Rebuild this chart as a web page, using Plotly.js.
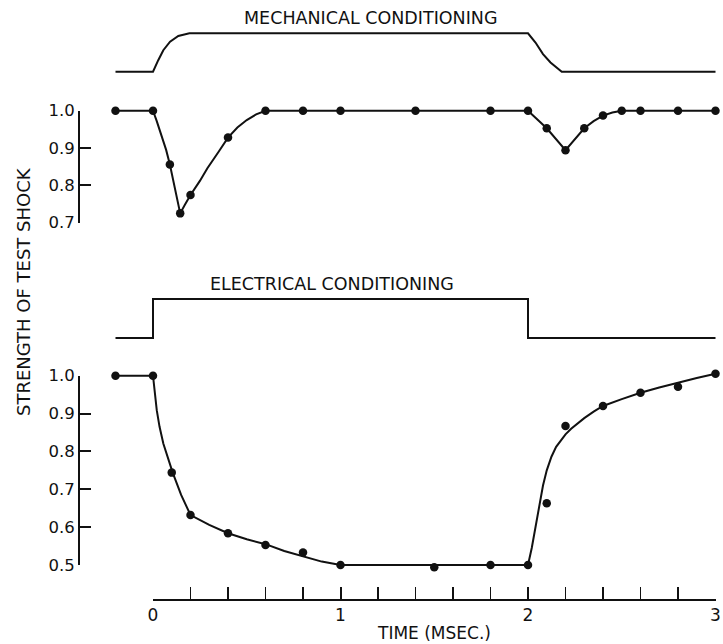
<!DOCTYPE html>
<html><head><meta charset="utf-8">
<script src="https://cdn.plot.ly/plotly-3.0.1.min.js"></script>
<style>html,body{margin:0;padding:0;background:#fff}#chart{width:723px;height:644px}</style>
</head><body><div id="chart"></div>
<script>
// ---------- data (time in msec) ----------
const mechPulseT = [-0.2, 0, 0.028, 0.055, 0.091, 0.135, 0.194, 2.0, 2.04, 2.08, 2.12, 2.18, 3.0];
const mechPulseLevel = [0, 0, 0.30, 0.56, 0.78, 0.93, 1, 1, 0.76, 0.46, 0.24, 0, 0];
const elecPulseT = [-0.2, 0, 0, 2.0, 2.0, 3.0];
const elecPulseLevel = [0, 0, 1, 1, 0, 0];

const mechT = [-0.2, 0, 0.09, 0.145, 0.2, 0.4, 0.6, 0.8, 1.0, 1.4, 1.8, 2.0, 2.1, 2.2, 2.3, 2.4, 2.5, 2.6, 2.8, 3.0];
const mechStrength = [1.0, 1.0, 0.856, 0.725, 0.774, 0.928, 1.0, 1.0, 1.0, 1.0, 1.0, 1.0, 0.953, 0.894, 0.953, 0.987, 1.0, 1.0, 1.0, 1.0];
const mechCurveT = [-0.2, 0, 0.02, 0.045, 0.07, 0.09, 0.12, 0.145, 0.17, 0.2, 0.25, 0.29, 0.35, 0.4, 0.45, 0.5, 0.55, 0.6, 2.0, 2.1, 2.2, 2.3, 2.35, 2.4, 2.45, 2.5, 3.0];
const mechCurveV = [1, 1, 0.972, 0.935, 0.895, 0.856, 0.787, 0.725, 0.748, 0.774, 0.812, 0.846, 0.89, 0.928, 0.955, 0.975, 0.99, 1, 1, 0.953, 0.894, 0.953, 0.972, 0.987, 0.995, 1, 1];

const elecT = [-0.2, 0, 0.1, 0.2, 0.4, 0.6, 0.8, 1.0, 1.5, 1.8, 2.0, 2.1, 2.2, 2.4, 2.6, 2.8, 3.0];
const elecStrength = [1.0, 1.0, 0.744, 0.632, 0.584, 0.553, 0.533, 0.5, 0.494, 0.5, 0.5, 0.663, 0.867, 0.92, 0.955, 0.971, 1.005];
const elecCurveT = [-0.2, 0, 0.02, 0.035, 0.055, 0.08, 0.105, 0.15, 0.2, 0.3, 0.4, 0.5, 0.6, 0.7, 0.8, 0.9, 1.0, 2.0, 2.02, 2.04, 2.06, 2.08, 2.1, 2.125, 2.15, 2.175, 2.2, 2.23, 2.26, 2.3, 2.35, 2.4, 2.5, 2.6, 2.7, 2.8, 2.9, 3.0];
const elecCurveV = [1, 1, 0.909, 0.865, 0.821, 0.78, 0.744, 0.685, 0.632, 0.606, 0.584, 0.568, 0.555, 0.537, 0.522, 0.509, 0.5, 0.5, 0.545, 0.6, 0.66, 0.71, 0.75, 0.786, 0.812, 0.83, 0.845, 0.86, 0.873, 0.888, 0.905, 0.92, 0.938, 0.955, 0.969, 0.982, 0.994, 1.005];

const topTicks = [0.7, 0.8, 0.9, 1.0];
const bottomTicks = [0.5, 0.6, 0.7, 0.8, 0.9, 1.0];
const timeLabels = [0, 1, 2, 3];

// ---------- layout geometry (pixels) ----------
const W = 723, H = 644, ML = 80;
const T0 = 153, PPT = 187.5;
const fx = p => (p - ML) / (W - ML);
const fy = p => 1 - p / H;
function padded(vTop, pTop, vBot, pBot, pA, pB) {
  const v = p => vTop + (p - pTop) * (vBot - vTop) / (pBot - pTop);
  return {range: [v(pB), v(pA)], domain: [fy(pB), fy(pA)]};
}
const INK = '#111';
const FONT = 'DejaVu Sans, Liberation Sans, sans-serif';
const hidden = o => Object.assign({visible: false, showgrid: false, zeroline: false, fixedrange: true}, o);

const yMechPulse = padded(1, 33.3, 0, 71.7, 20, 85);
const yMechData = padded(1.0, 110.7, 0.7, 222.7, 95, 240);
const yElecPulse = padded(1, 299, 0, 338, 288, 350);
const yElecData = padded(1.0, 375.7, 0.5, 565, 360, 585);

const valueAxis = (range, pTop, pBot, ticks) => ({
  domain: [fy(pBot), fy(pTop)], range: range, anchor: 'x',
  showline: true, linewidth: 2, linecolor: INK,
  ticks: 'inside', ticklen: 11, tickwidth: 2, tickcolor: INK,
  tickmode: 'array', tickvals: ticks, tickformat: '.1f',
  tickfont: {family: FONT, size: 16.5, color: INK},
  showgrid: false, zeroline: false, fixedrange: true
});

const line = {color: INK, width: 2};
const dot = {color: INK, size: 8.5};
const traces = [
  {x: mechPulseT, y: mechPulseLevel, xaxis: 'x', yaxis: 'y', mode: 'lines', line: line, hoverinfo: 'skip'},
  {x: mechCurveT, y: mechCurveV, xaxis: 'x', yaxis: 'y2', mode: 'lines', line: line, hoverinfo: 'skip'},
  {x: mechT, y: mechStrength, xaxis: 'x', yaxis: 'y2', mode: 'markers', marker: dot, hoverinfo: 'skip'},
  {x: elecPulseT, y: elecPulseLevel, xaxis: 'x', yaxis: 'y3', mode: 'lines', line: line, hoverinfo: 'skip'},
  {x: elecCurveT, y: elecCurveV, xaxis: 'x', yaxis: 'y4', mode: 'lines', line: line, hoverinfo: 'skip'},
  {x: elecT, y: elecStrength, xaxis: 'x', yaxis: 'y4', mode: 'markers', marker: dot, hoverinfo: 'skip'},
  // transparent copies that only hold the visible scale axes
  {x: mechT, y: mechStrength, xaxis: 'x', yaxis: 'y5', mode: 'markers', marker: {size: 1, opacity: 0}, hoverinfo: 'skip'},
  {x: elecT, y: elecStrength, xaxis: 'x2', yaxis: 'y6', mode: 'markers', marker: {size: 1, opacity: 0}, hoverinfo: 'skip'}
];

const layout = {
  width: W, height: H,
  margin: {l: ML, r: 0, t: 0, b: 0, pad: 0},
  paper_bgcolor: '#fff', plot_bgcolor: 'rgba(0,0,0,0)',
  showlegend: false,
  font: {family: FONT, color: INK},
  xaxis: hidden({domain: [0, 1], range: [(ML - T0) / PPT, (W - T0) / PPT], anchor: 'y5'}),
  yaxis: hidden(yMechPulse),
  yaxis2: hidden(yMechData),
  yaxis3: hidden(yElecPulse),
  yaxis4: hidden(yElecData),
  yaxis5: valueAxis([0.7, 1.0], 110.7, 222.7, topTicks),
  yaxis6: valueAxis([0.5, 1.0], 375.7, 565, bottomTicks),
  xaxis2: {
    domain: [fx(T0), fx(T0 + 3 * PPT)], range: [0, 3],
    anchor: 'free', position: fy(600), side: 'bottom',
    showline: true, linewidth: 2, linecolor: INK,
    ticks: 'inside', ticklen: 12, tickwidth: 2, tickcolor: INK,
    tickmode: 'array', tickvals: timeLabels, ticktext: timeLabels.map(String),
    minor: {tickmode: 'linear', tick0: 0, dtick: 0.2, ticks: 'inside', ticklen: 12, tickwidth: 1.5, tickcolor: INK, showgrid: false},
    tickfont: {family: FONT, size: 17, color: INK},
    showgrid: false, zeroline: false, fixedrange: true
  },
  annotations: [
    {text: 'MECHANICAL CONDITIONING', xref: 'x', yref: 'paper', x: (371 - T0) / PPT, y: fy(18.5), showarrow: false,
     font: {family: FONT, size: 17.5, color: INK}, xanchor: 'center', yanchor: 'middle'},
    {text: 'ELECTRICAL CONDITIONING', xref: 'x', yref: 'paper', x: (332 - T0) / PPT, y: fy(283.5), showarrow: false,
     font: {family: FONT, size: 17.5, color: INK}, xanchor: 'center', yanchor: 'middle'},
    {text: 'STRENGTH OF TEST SHOCK', xref: 'paper', yref: 'paper', x: fx(23), y: fy(292), textangle: -90, showarrow: false,
     font: {family: FONT, size: 18, color: INK}, xanchor: 'center', yanchor: 'middle'},
    {text: 'TIME (MSEC.)', xref: 'paper', yref: 'paper', x: fx(434), y: fy(633), showarrow: false,
     font: {family: FONT, size: 17, color: INK}, xanchor: 'center', yanchor: 'middle'}
  ]
};

Plotly.newPlot('chart', traces, layout, {staticPlot: true, displayModeBar: false});
</script>
</body></html>
